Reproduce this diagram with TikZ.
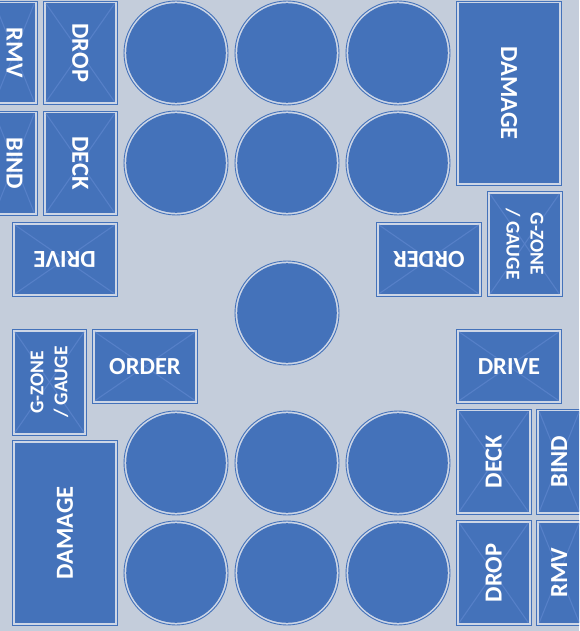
\documentclass[tikz,border=0pt]{standalone}
\usepackage{fontspec}
\setmainfont{Carlito}
\definecolor{bgcol}{RGB}{196,205,219}
\definecolor{myblue}{RGB}{68,114,186}
\definecolor{gapcol}{RGB}{205,214,230}
\definecolor{xcol}{RGB}{86,128,200}
\tikzset{
  lbl/.style={text=white, font=\bfseries\fontsize{24.5}{28}\selectfont, inner sep=0pt},
  lblsmall/.style={text=white, font=\bfseries\fontsize{19.5}{24}\selectfont, inner sep=0pt, align=center},
  rimline/.style={draw=myblue, line width=0.9pt, fill=gapcol},
  padfill/.style={fill=myblue},
  xline/.style={draw=xcol, line width=1.1pt},
}
% #1 name, #2 x1, #3 y1, #4 x2, #5 y2, #6 rotation, #7 style, #8 text
\newcommand\padbox[8]{%
  \draw[rimline] (#2,#3) rectangle (#4,#5);
  \fill[padfill] ({#2+2.3},{#3+2.3}) rectangle ({#4-2.3},{#5-2.3});
  \node[#7, rotate=#6] (#1) at ({(#2+#4)/2},{(#3+#5)/2}) {#8};
}
\newcommand\padxbox[8]{%
  \draw[rimline] (#2,#3) rectangle (#4,#5);
  \fill[padfill] ({#2+2.3},{#3+2.3}) rectangle ({#4-2.3},{#5-2.3});
  \draw[xline] ({#2+2.8},{#3+2.8}) -- ({#4-2.8},{#5-2.8});
  \draw[xline] ({#4-2.8},{#3+2.8}) -- ({#2+2.8},{#5-2.8});
  \node[#7, rotate=#6] (#1) at ({(#2+#4)/2},{(#3+#5)/2}) {#8};
}
\newcommand\padbtn[3]{%
  \draw[draw=myblue, line width=0.9pt, fill=gapcol] (#2,#3) circle (52);
  \fill[padfill] (#2,#3) circle (49.8);
  \coordinate (#1) at (#2,#3);
}
\begin{document}
\begin{tikzpicture}[x=1pt,y=-1pt]
\useasboundingbox (0,0) rectangle (579,631);
\fill[bgcol] (0,0) rectangle (579,631);
\clip (0,0) rectangle (579,631);
% top-left
\padxbox{rmvA}{-8}{1}{37}{104.5}{-90}{lbl}{RMV}
\padxbox{dropA}{43.3}{1}{117.3}{104.5}{-90}{lbl}{DROP}
\padxbox{bindA}{-8}{111}{37}{215.5}{-90}{lbl}{BIND}
\padxbox{deckA}{43.3}{111}{117.3}{215.5}{-90}{lbl}{DECK}
\padxbox{driveA}{12.3}{222.3}{117.3}{296.5}{180}{lbl}{DRIVE}
% top-right
\padbox{damageA}{456.7}{1}{561.5}{185.3}{-90}{lbl}{DAMAGE}
\padxbox{orderA}{376.3}{222.3}{481.3}{296.5}{180}{lbl}{ORDER}
\padxbox{gzoneA}{487.3}{191.3}{562}{296.5}{-90}{lblsmall}{G-ZONE\\/ GAUGE}
% middle left/right
\padxbox{gzoneB}{12.3}{329.3}{86.7}{435}{90}{lblsmall}{G-ZONE\\/ GAUGE}
\padxbox{orderB}{92.3}{329.3}{197.7}{403.3}{0}{lbl}{ORDER}
\padxbox{driveB}{456.5}{329.3}{561.3}{403.3}{0}{lbl}{DRIVE}
% bottom-left
\padbox{damageB}{12.3}{440.7}{117.5}{625.3}{90}{lbl}{DAMAGE}
% bottom-right
\padxbox{deckB}{456.5}{409}{531}{514.3}{90}{lbl}{DECK}
\padxbox{bindB}{536.5}{409}{582}{514.3}{90}{lbl}{BIND}
\padxbox{dropB}{456.5}{520.3}{531}{625.3}{90}{lbl}{DROP}
\padxbox{rmvB}{536.5}{520.3}{582}{625.3}{90}{lbl}{RMV}
% circles
\padbtn{c11}{176}{53}
\padbtn{c12}{287}{53}
\padbtn{c13}{398}{53}
\padbtn{c21}{176}{163}
\padbtn{c22}{287}{163}
\padbtn{c23}{398}{163}
\padbtn{c30}{287}{313}
\padbtn{c41}{176}{463}
\padbtn{c42}{287}{463}
\padbtn{c43}{398}{463}
\padbtn{c51}{176}{573}
\padbtn{c52}{287}{573}
\padbtn{c53}{398}{573}
\end{tikzpicture}
\end{document}
